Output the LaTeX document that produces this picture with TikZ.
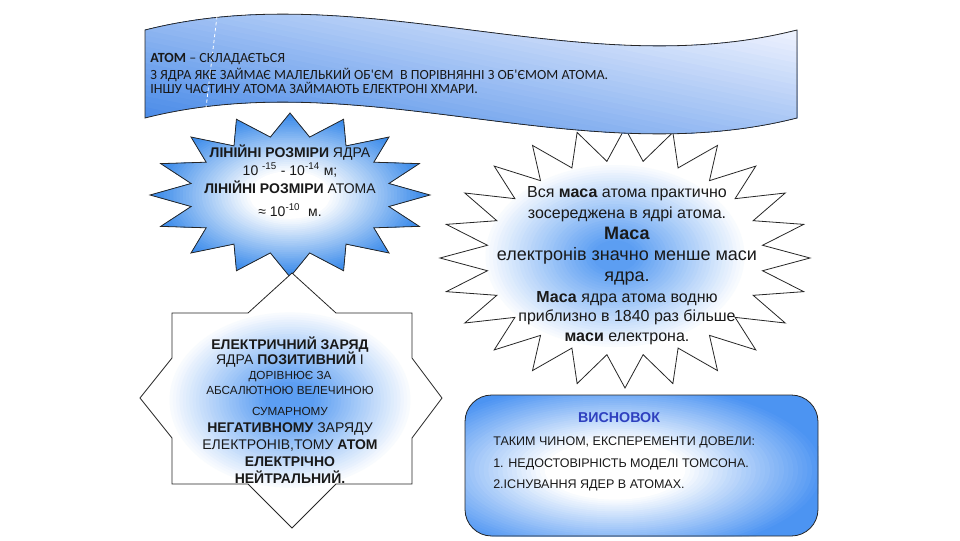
\documentclass[tikz,border=0pt]{standalone}
\usepackage{fontspec}
\setmainfont{Liberation Sans}
\newfontfamily\calib{Carlito}
\definecolor{bannerblue}{rgb}{0.30,0.55,0.91}
\definecolor{bannerlight}{rgb}{0.95,0.96,1}
\definecolor{starblue}{rgb}{0.24,0.55,0.92}
\definecolor{glowblue}{rgb}{0.36,0.62,0.95}
\definecolor{boxblue}{rgb}{0.3,0.58,0.95}
\definecolor{headblue}{rgb}{0.18,0.25,0.75}
\begin{document}
\begin{tikzpicture}[x=0.75pt,y=0.75pt,
  shapeline/.style={draw=black!85, line width=0.6pt},
  bantxt/.style={anchor=base west, inner sep=0pt, font=\calib\fontsize{10.5}{12}\selectfont, text=black!90},
  smtxt/.style={anchor=base, inner sep=0pt, font=\fontsize{10.5}{12}\selectfont, text=black!90},
  tinytxt/.style={anchor=base, inner sep=0pt, font=\fontsize{8.8}{10}\selectfont, text=black!90},
  midtxt/.style={anchor=base, inner sep=0pt, font=\fontsize{12}{13}\selectfont, text=black!90},
  bigtxt/.style={anchor=base, inner sep=0pt, font=\fontsize{13.5}{15}\selectfont, text=black!90},
  boxtxt/.style={anchor=base west, inner sep=0pt, font=\fontsize{9.4}{11}\selectfont, text=black!90}]
\useasboundingbox (0,0) rectangle (960,-540);

% ---------- saved outlines ----------
\path[save path=\rstarpath] (625,-128)
  \foreach \i in {0,...,23}{ -- ({625+0.75*185*cos(90+15*\i+7.5)},{-258+0.75*130*sin(90+15*\i+7.5)})
     -- ({625+185*cos(90+15*(\i+1))},{-258+130*sin(90+15*(\i+1))}) } -- cycle;
\path[save path=\bannerpath] (145,-30) .. controls (362,25) and (580,-85) .. (797,-30) -- (797,-118)
  .. controls (580,-173) and (362,-63) .. (145,-118) -- cycle;
\path[save path=\lstarpath] (290,-113)
  \foreach \i in {0,...,15}{ -- ({290+0.72*140*cos(90+22.5*\i+11.25)},{-195+0.72*82*sin(90+22.5*\i+11.25)})
     -- ({290+140*cos(90+22.5*(\i+1))},{-195+82*sin(90+22.5*(\i+1))}) } -- cycle;
\path[save path=\ostarpath] (292,-273) -- (336,-313) -- (412,-313) -- (412,-358) -- (442,-398)
  -- (412,-438) -- (412,-484) -- (336,-484) -- (292,-528) -- (248,-484) -- (172,-484) -- (172,-438)
  -- (140,-398) -- (172,-358) -- (172,-313) -- (248,-313) -- cycle;
\path[save path=\cboxpath] [rounded corners=20] (465,-395) rectangle (818,-536);

% ---------- right 24-point star: blue glow in centre ----------
\begin{scope}
  \clip[use path=\rstarpath];
  \fill[white] (430,-120) rectangle (820,-395);
  \foreach \k in {0,...,30}{
    \pgfmathsetmacro\rf{0.72-0.6*\k/30}
    \pgfmathtruncatemacro\rq{100-100*\k/30}
    \fill[white!\rq!glowblue] (615,-256) ellipse ({185*\rf} and {130*\rf});
  }
\end{scope}
\draw[shapeline, use path=\rstarpath];

% ---------- banner ----------
\begin{scope}
  \clip[use path=\bannerpath];
  \foreach \k in {0,...,40}{
    \pgfmathsetmacro\c{\k/40}
    \pgfmathtruncatemacro\bp{100*\k/40}
    \pgfmathsetmacro\ua{145+652*(\c+0.2)/0.6}
    \pgfmathsetmacro\ub{145+652*(\c-0.6)/0.6}
    \fill[bannerlight!\bp!bannerblue] (\ua,-162) -- (1800,-162) -- (1800,14) -- (\ub,14) -- cycle;
  }
\end{scope}
\draw[shapeline, use path=\bannerpath];
\coordinate (d1) at (217,-16);
\coordinate (d2) at (206,-108);
\draw[white, line width=0.6pt, dash pattern=on 2.5pt off 2pt] (d1) -- (d2);

% ---------- left 16-point star: white centre, blue edges ----------
\begin{scope}
  \clip[use path=\lstarpath];
  \fill[starblue] (140,-100) rectangle (440,-290);
  \foreach \k in {0,...,30}{
    \pgfmathsetmacro\lf{0.97-0.68*\k/30}
    \pgfmathtruncatemacro\lp{100*\k/30}
    \fill[white!\lp!starblue] (290,-195) ellipse ({140*\lf} and {82*\lf});
  }
\end{scope}
\draw[shapeline, use path=\lstarpath];

% ---------- 8-point star: blue glow in centre ----------
\begin{scope}
  \clip[use path=\ostarpath];
  \fill[white] (130,-265) rectangle (450,-535);
  \foreach \k in {0,...,30}{
    \pgfmathsetmacro\of{0.75-0.6*\k/30}
    \pgfmathtruncatemacro\oq{100-100*\k/30}
    \fill[white!\oq!glowblue] (290,-400) ellipse ({165*\of} and {120*\of});
  }
\end{scope}
\draw[shapeline, use path=\ostarpath];

% ---------- conclusion box: white centre, blue edges ----------
\begin{scope}
  \clip[use path=\cboxpath];
  \fill[boxblue] (460,-390) rectangle (825,-540);
  \foreach \k in {0,...,30}{
    \pgfmathsetmacro\xf{1.2-0.8*\k/30}
    \pgfmathtruncatemacro\bxp{100*\k/30}
    \fill[white!\bxp!boxblue] (615,-470) ellipse ({176*\xf} and {74*\xf});
  }
\end{scope}
\draw[shapeline, use path=\cboxpath];

% banner text
\node[bantxt] (b1) at (150,-62) {\textbf{АТОМ} – СКЛАДАЄТЬСЯ};
\node[bantxt] (b2) at (150,-79) {З ЯДРА ЯКЕ ЗАЙМАЄ МАЛЕЛЬКИЙ ОБ'ЄМ\ \ В ПОРІВНЯННІ З ОБ'ЄМОМ АТОМА.};
\node[bantxt] (b3) at (150,-93) {ІНШУ ЧАСТИНУ АТОМА ЗАЙМАЮТЬ ЕЛЕКТРОНІ ХМАРИ.};

% left star text
\node[smtxt] (s1) at (290,-157) {\textbf{ЛІНІЙНІ РОЗМІРИ} ЯДРА};
\node[smtxt] (s2) at (290,-175) {10 \textsuperscript{-15} - 10\textsuperscript{-14} м;};
\node[smtxt] (s3) at (290,-193) {\textbf{ЛІНІЙНІ РОЗМІРИ} АТОМА};
\node[smtxt] (s4) at (290,-216) {≈ 10\textsuperscript{-10}\ \ м.};

% right star text
\node[midtxt] (r1) at (627,-197) {Вся \textbf{маса} атома практично};
\node[midtxt] (r2) at (627,-218) {зосереджена в ядрі атома.};
\node[bigtxt] (r3) at (627,-239) {\textbf{Маса}};
\node[bigtxt] (r4) at (627,-260) {електронів значно менше маси};
\node[bigtxt] (r5) at (627,-281) {ядра.};
\node[midtxt] (r6) at (627,-302) {\textbf{Маса} ядра атома водню};
\node[midtxt] (r7) at (627,-321) {приблизно в 1840 раз більше};
\node[midtxt] (r8) at (627,-341) {\textbf{маси} електрона.};

% 8-point star text
\node[smtxt] (o1) at (290,-349) {\textbf{ЕЛЕКТРИЧНИЙ ЗАРЯД}};
\node[smtxt] (o2) at (290,-364) {ЯДРА \textbf{ПОЗИТИВНИЙ} І};
\node[tinytxt] (o3) at (290,-379) {ДОРІВНЮЄ ЗА};
\node[tinytxt] (o4) at (290,-394) {АБСАЛЮТНОЮ ВЕЛЕЧИНОЮ};
\node[tinytxt] (o5) at (290,-415) {СУМАРНОМУ};
\node[smtxt] (o6) at (290,-432) {\textbf{НЕГАТИВНОМУ} ЗАРЯДУ};
\node[smtxt] (o7) at (290,-449) {ЕЛЕКТРОНІВ,ТОМУ \textbf{АТОМ}};
\node[smtxt] (o8) at (290,-466) {\textbf{ЕЛЕКТРІЧНО}};
\node[smtxt] (o9) at (290,-483) {\textbf{НЕЙТРАЛЬНИЙ.}};

% conclusion text
\node[anchor=base, inner sep=0pt, font=\bfseries\fontsize{10.7}{12}\selectfont, text=headblue] (c0) at (619,-422) {ВИСНОВОК};
\node[boxtxt] (c1) at (493,-445) {ТАКИМ ЧИНОМ, ЕКСПЕРЕМЕНТИ ДОВЕЛИ:};
\node[boxtxt] (c2) at (493,-467) {1. НЕДОСТОВІРНІСТЬ МОДЕЛІ ТОМСОНА.};
\node[boxtxt] (c3) at (493,-488) {2.ІСНУВАННЯ ЯДЕР В АТОМАХ.};
\end{tikzpicture}
\end{document}
